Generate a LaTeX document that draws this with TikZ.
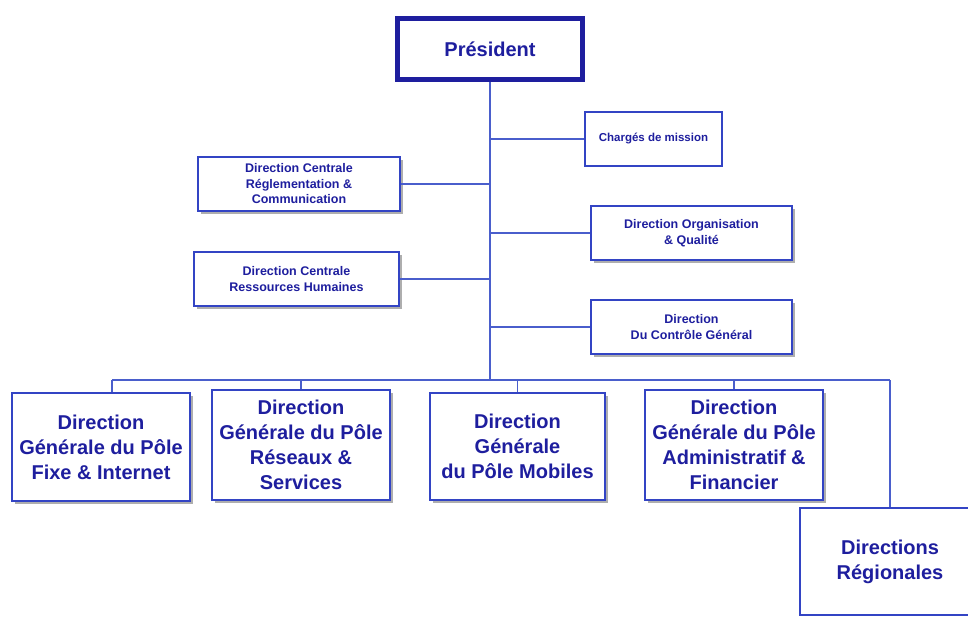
\documentclass[tikz,border=0pt]{standalone}
\usepackage{fontspec}
\setmainfont{Liberation Sans}
\usetikzlibrary{shadows}
\definecolor{txtblue}{HTML}{1E1E9E}
\definecolor{boxblue}{HTML}{3344C4}
\definecolor{lineblue}{HTML}{4A5ECC}
\tikzset{
  box/.style={draw=boxblue, line width=1.3pt, fill=white, inner sep=0pt, align=center,
    text=txtblue, font=\bfseries},
  shbox/.style={box, drop shadow={shadow xshift=3pt, shadow yshift=-3pt, fill=black!45, opacity=0.7}},
  small/.style={font=\bfseries\fontsize{12.5}{15.5}\selectfont},
  tiny/.style={font=\bfseries\fontsize{11.5}{15.5}\selectfont},
  big/.style={font=\bfseries\fontsize{20}{25}\selectfont},
  conn/.style={draw=lineblue, line width=1.2pt}
}
\begin{document}
\begin{tikzpicture}[x=1pt,y=-1pt]
\useasboundingbox (0,0) rectangle (968,617);
% President
\node[box, draw=txtblue, line width=4.5pt, minimum width=186pt, minimum height=62pt,
  font=\bfseries\fontsize{20}{24}\selectfont] (pres) at (490,49) {Président};
\draw[txtblue, line width=0.9pt] ([shift={(5pt,5pt)}]pres.south west) rectangle ([shift={(-5pt,-5pt)}]pres.north east);
% staff boxes
\node[box, tiny, minimum width=137pt, minimum height=54pt] (charges) at (653.5,139) {Chargés de mission};
\node[shbox, small, minimum width=202pt, minimum height=54pt] (dcrc) at (299,184) {Direction Centrale\\Réglementation \&\\Communication};
\node[shbox, small, minimum width=201pt, minimum height=54pt] (doq) at (691.5,233) {Direction Organisation\\\& Qualité};
\node[shbox, small, minimum width=205pt, minimum height=54pt] (dcrh) at (296.5,279) {Direction Centrale\\Ressources Humaines};
\node[shbox, small, minimum width=201pt, minimum height=54pt] (dcg) at (691.5,327) {Direction\\Du Contrôle Général};
% bottom boxes
\node[shbox, big, minimum width=178pt, minimum height=108pt] (b1) at (101,447) {Direction\\Générale du Pôle\\Fixe \& Internet};
\node[shbox, big, minimum width=178pt, minimum height=110pt] (b2) at (301,445) {Direction\\Générale du Pôle\\Réseaux \&\\Services};
\node[shbox, big, minimum width=175pt, minimum height=107pt] (b3) at (517.5,446.5) {Direction\\Générale\\du Pôle Mobiles};
\node[shbox, big, minimum width=178pt, minimum height=110pt] (b4) at (734,445) {Direction\\Générale du Pôle\\Administratif \&\\Financier};
\node[box, big, minimum width=172pt, minimum height=107pt] (b5) at (886,561.5) {\hspace*{8pt}Directions\\\hspace*{8pt}Régionales};
% connectors
\coordinate (busL) at (112,380);
\coordinate (busR) at (890,380);
\draw[conn] (pres.south) -- (pres.south |- busL);
\draw[conn] (charges.west) -- (charges.west -| pres.south);
\draw[conn] (dcrc.east) -- (dcrc.east -| pres.south);
\draw[conn] (doq.west) -- (doq.west -| pres.south);
\draw[conn] (dcrh.east) -- (dcrh.east -| pres.south);
\draw[conn] (dcg.west) -- (dcg.west -| pres.south);
\draw[conn] (busL) -- (busR);
\draw[conn] (busL) -- (busL |- b1.north);
\draw[conn] (b2.north |- busL) -- (b2.north);
\draw[conn] (b3.north |- busL) -- (b3.north);
\draw[conn] (b4.north |- busL) -- (b4.north);
\draw[conn] (busR) -- (busR |- b5.north);
\end{tikzpicture}
\end{document}
